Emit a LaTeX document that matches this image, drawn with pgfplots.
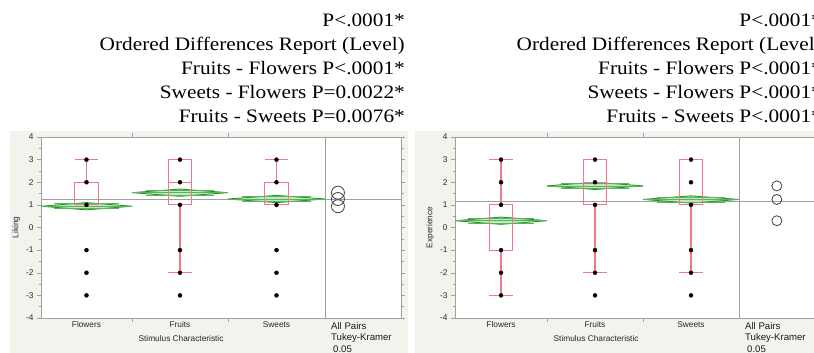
\documentclass[border=0pt]{standalone}
\usepackage{fontspec}
\setmainfont{Liberation Sans}
\newfontfamily\serifttl[FakeStretch=1.12]{Liberation Serif}
\usepackage{pgfplots}
\pgfplotsset{compat=1.18}
\definecolor{bg}{HTML}{F3F3EE}
\definecolor{axgray}{HTML}{A0A0A0}
\definecolor{boxred}{HTML}{F27888}
\definecolor{dgreen}{HTML}{239A23}
\definecolor{lgreen}{HTML}{C4E6C4}
\pgfplotsset{jmp/.style={
  scale only axis, width=360pt, height=181pt, anchor=south west,
  xmin=0, xmax=3.803, ymin=-4, ymax=4,
  axis background/.style={fill=white},
  axis line style={axgray},
  tick align=outside, major tick length=4pt, minor tick length=2.5pt,
  tick style={axgray, thin},
  ytick={-4,-3,-2,-1,0,1,2,3,4}, minor y tick num=1,
  xticklabels={},
  extra x tick style={major tick length=0pt},
  tick label style={font=\fontsize{8.3}{10}\selectfont, text=black!85},
  /pgf/number format/assume math mode=true,
  label style={font=\fontsize{8.3}{10}\selectfont, text=black!85},
  unbounded coords=jump,
  ylabel style={anchor=center},
  xlabel style={anchor=center},
},
boxst/.style={boxred, line width=1.2pt},
diast/.style={dgreen, line width=0.9pt, fill=lgreen},
ovl/.style={dgreen!75, line width=0.7pt},
gm/.style={axgray, line width=0.8pt},
pts/.style={only marks, mark=*, mark size=2pt, black},
cir/.style={only marks, mark=o, mark options={line width=0.8pt}, black!75}
}
\begin{document}
\begin{tikzpicture}
\useasboundingbox (0pt,0pt) rectangle (814pt,353pt);
\clip (0pt,0pt) rectangle (814pt,353pt);
\fill[bg] (10pt,0pt) rectangle (408pt,222pt);
\fill[bg] (415pt,0pt) rectangle (830pt,222pt);
% titles
\begin{scope}[every node/.style={anchor=base east, inner sep=0pt, font=\serifttl\fontsize{19}{20}\selectfont}]
\node at (405pt,326pt) {P<.0001*};
\node at (405pt,302pt) {Ordered Differences Report (Level)};
\node at (405pt,278pt) {Fruits - Flowers P<.0001*};
\node at (405pt,254pt) {Sweets - Flowers P=0.0022*};
\node at (405pt,230pt) {Fruits - Sweets P=0.0076*};
\node at (822pt,326pt) {P<.0001*};
\node at (822pt,302pt) {Ordered Differences Report (Level)};
\node at (822pt,278pt) {Fruits - Flowers P<.0001*};
\node at (822pt,254pt) {Sweets - Flowers P<.0001*};
\node at (822pt,230pt) {Fruits - Sweets P<.0001*};
\end{scope}
% ---------------- Left panel: Liking
\begin{axis}[jmp, at={(41pt,35pt)},
  xtick={0.961,1.975},
  extra x ticks={0.4805,1.468,2.4875}, extra x tick labels={Flowers,Fruits,Sweets},
  ylabel={Liking}, ylabel style={at={(axis description cs:-0.069,0.5)}},
  xlabel={Stimulus Characteristic}, xlabel style={at={(axis description cs:0.389,-0.116)}}]
\addplot[gm] coordinates {(0,1.25) (3.803,1.25)};
\addplot[gm] coordinates {(3,-4) (3,4)};
\addplot[diast] coordinates {(0,0.94) (0.4805,1.10) (0.961,0.94) (0.4805,0.78) (0,0.94)};
\addplot[diast] coordinates {(0.961,1.54) (1.468,1.70) (1.975,1.54) (1.468,1.38) (0.961,1.54)};
\addplot[diast] coordinates {(1.975,1.26) (2.4875,1.42) (3,1.26) (2.4875,1.10) (1.975,1.26)};
\addplot[ovl] coordinates {(0,0.94) (0.961,0.94) (0,nan) (0.141,1.053) (0.820,1.053) (0,nan) (0.141,0.827) (0.820,0.827)};
\addplot[ovl] coordinates {(0.961,1.54) (1.975,1.54) (0,nan) (1.110,1.653) (1.827,1.653) (0,nan) (1.110,1.427) (1.827,1.427)};
\addplot[ovl] coordinates {(1.975,1.26) (3,1.26) (0,nan) (2.125,1.373) (2.850,1.373) (0,nan) (2.125,1.147) (2.850,1.147)};
\addplot[boxst] coordinates {(0.3555,1) (0.6055,1) (0.6055,2) (0.3555,2) (0.3555,1) (0,nan) (0.4805,2) (0.4805,3) (0,nan) (0.3555,3) (0.6055,3)};
\addplot[boxst] coordinates {(1.343,1) (1.593,1) (1.593,3) (1.343,3) (1.343,1) (0,nan) (1.343,2) (1.593,2) (0,nan) (1.468,1) (1.468,-2) (0,nan) (1.343,-2) (1.593,-2)};
\addplot[boxst] coordinates {(2.3625,1) (2.6125,1) (2.6125,2) (2.3625,2) (2.3625,1) (0,nan) (2.4875,2) (2.4875,3) (0,nan) (2.3625,3) (2.6125,3)};
\addplot[pts] coordinates {(0.4805,3) (0.4805,2) (0.4805,1) (0.4805,-1) (0.4805,-2) (0.4805,-3)};
\addplot[pts] coordinates {(1.468,3) (1.468,2) (1.468,1) (1.468,-1) (1.468,-2) (1.468,-3)};
\addplot[pts] coordinates {(2.4875,3) (2.4875,2) (2.4875,1) (2.4875,-1) (2.4875,-2) (2.4875,-3)};
\addplot[cir, mark size=6.5pt] coordinates {(3.137,1.54) (3.137,1.26) (3.137,0.94)};
\end{axis}
% ---------------- Right panel: Experience
\begin{axis}[jmp, at={(455pt,35pt)},
  xtick={0.972,1.986},
  extra x ticks={0.486,1.479,2.493}, extra x tick labels={Flowers,Fruits,Sweets},
  ylabel={Experience}, ylabel style={at={(axis description cs:-0.069,0.5)}},
  xlabel={Stimulus Characteristic}, xlabel style={at={(axis description cs:0.392,-0.116)}}]
\addplot[gm] coordinates {(0,1.15) (3.803,1.15)};
\addplot[gm] coordinates {(3,-4) (3,4)};
\addplot[diast] coordinates {(0,0.30) (0.486,0.46) (0.972,0.30) (0.486,0.14) (0,0.30)};
\addplot[diast] coordinates {(0.972,1.84) (1.479,2.00) (1.986,1.84) (1.479,1.68) (0.972,1.84)};
\addplot[diast] coordinates {(1.986,1.24) (2.493,1.40) (3,1.24) (2.493,1.08) (1.986,1.24)};
\addplot[ovl] coordinates {(0,0.30) (0.972,0.30) (0,nan) (0.142,0.413) (0.830,0.413) (0,nan) (0.142,0.187) (0.830,0.187)};
\addplot[ovl] coordinates {(0.972,1.84) (1.986,1.84) (0,nan) (1.1205,1.953) (1.8375,1.953) (0,nan) (1.1205,1.727) (1.8375,1.727)};
\addplot[ovl] coordinates {(1.986,1.24) (3,1.24) (0,nan) (2.1345,1.353) (2.8515,1.353) (0,nan) (2.1345,1.127) (2.8515,1.127)};
\addplot[boxst] coordinates {(0.361,-1) (0.611,-1) (0.611,1) (0.361,1) (0.361,-1) (0,nan) (0.486,1) (0.486,3) (0,nan) (0.361,3) (0.611,3) (0,nan) (0.486,-1) (0.486,-3) (0,nan) (0.361,-3) (0.611,-3)};
\addplot[boxst] coordinates {(1.354,1) (1.604,1) (1.604,3) (1.354,3) (1.354,1) (0,nan) (1.354,2) (1.604,2) (0,nan) (1.479,1) (1.479,-2) (0,nan) (1.354,-2) (1.604,-2)};
\addplot[boxst] coordinates {(2.368,1) (2.618,1) (2.618,3) (2.368,3) (2.368,1) (0,nan) (2.493,1) (2.493,-2) (0,nan) (2.368,-2) (2.618,-2)};
\addplot[pts] coordinates {(0.486,3) (0.486,2) (0.486,1) (0.486,-1) (0.486,-2) (0.486,-3)};
\addplot[pts] coordinates {(1.479,3) (1.479,2) (1.479,1) (1.479,-1) (1.479,-2) (1.479,-3)};
\addplot[pts] coordinates {(2.493,3) (2.493,2) (2.493,1) (2.493,-1) (2.493,-2) (2.493,-3)};
\addplot[cir, mark size=5pt] coordinates {(3.40,1.84) (3.40,1.24) (3.40,0.30)};
\end{axis}
\begin{scope}[every node/.style={anchor=west, inner sep=0pt, font=\fontsize{9.6}{11}\selectfont, text=black!90}]
\node at (331pt,27pt) {All Pairs};
\node at (331pt,15pt) {Tukey-Kramer};
\node at (333pt,4pt) {0.05};
\node at (745pt,27pt) {All Pairs};
\node at (745pt,15pt) {Tukey-Kramer};
\node at (747pt,4pt) {0.05};
\end{scope}
\end{tikzpicture}
\end{document}
